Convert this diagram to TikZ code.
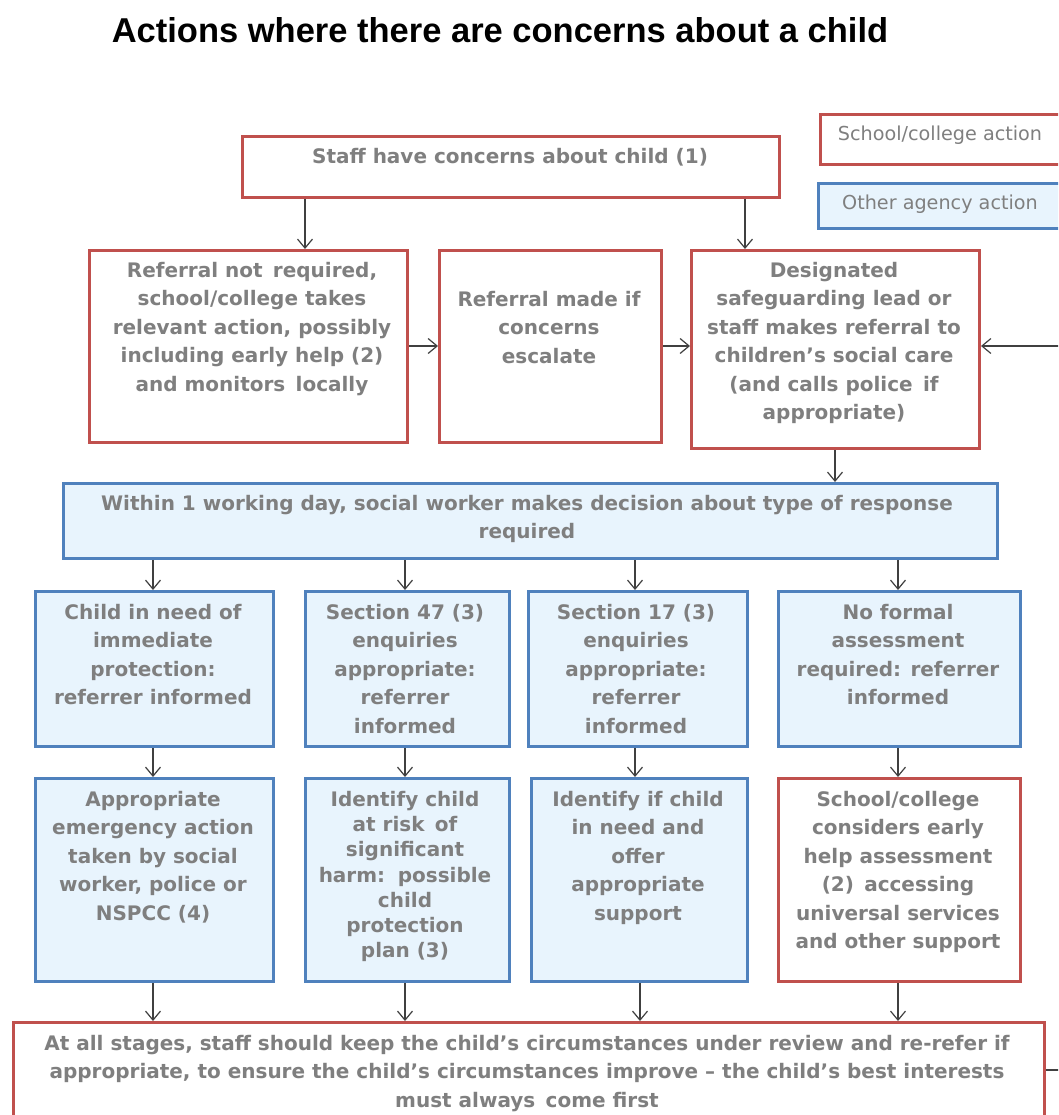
\documentclass[tikz,border=0pt]{standalone}
\usepackage{fontspec}
\setmainfont{Liberation Sans}
\newfontfamily\boxfont{DejaVu Sans}
\usetikzlibrary{arrows.meta}
\definecolor{redb}{HTML}{C0504D}
\definecolor{blueb}{HTML}{4F81BD}
\definecolor{bluef}{HTML}{E8F4FD}
\definecolor{tgray}{HTML}{7F7F7F}
\definecolor{agray}{HTML}{404040}
\tikzset{
  redbox/.style={draw=redb, line width=3pt, fill=white, inner sep=0, anchor=north west},
  bluebox/.style={draw=blueb, line width=3pt, fill=bluef, inner sep=0, anchor=north west},
  txt/.style={inner sep=0, align=center, anchor=north, text=tgray, font=\boxfont\bfseries\fontsize{20}{28.5}\selectfont},
  legtxt/.style={inner sep=0, anchor=center, text=tgray, font=\boxfont\fontsize{19.2}{23}\selectfont},
  arr/.style={draw=agray, line width=1.2pt, -{Straight Barb[length=9pt,width=15pt,line width=1.2pt]}},
  plain/.style={draw=agray, line width=1.2pt}
}
\begin{document}
\begin{tikzpicture}[x=1pt,y=-1pt]
\clip (0,0) rectangle (1058,1115);
\fill[white] (0,0) rectangle (1058,1115);
% title
\node[inner sep=0, font=\bfseries\fontsize{34.5}{40}\selectfont] (title) at (500,30) {Actions where there are concerns about a child};
% legend
\node[redbox, minimum width=260pt, minimum height=50pt] (legR) at (819,113) {};
\node[legtxt] (legRt) at (940,135) {School/college action};
\node[bluebox, minimum width=260pt, minimum height=45pt] (legB) at (817,182) {};
\node[legtxt] (legBt) at (940,204) {Other agency action};
% boxes
\node[redbox, minimum width=537pt, minimum height=61pt] (staff) at (241,135) {};
\node[txt] (stafft) at (510,148) {Staff have concerns about child (1)};
\node[redbox, minimum width=318pt, minimum height=192pt] (A) at (88,249) {};
\node[txt] (At) at (252,262) {Referral not\, required,\\school/college takes\\relevant action, possibly\\including early help (2)\\and monitors\, locally};
\node[redbox, minimum width=222pt, minimum height=192pt] (B) at (438,249) {};
\node[txt] (Bt) at (549,291) {Referral made if\\concerns\\escalate};
\node[redbox, minimum width=288pt, minimum height=198pt] (C) at (690,249) {};
\node[txt] (Ct) at (834,262) {Designated\\safeguarding lead or\\staff makes referral to\\children’s social care\\(and calls police\, if\\appropriate)};
\node[bluebox, minimum width=934pt, minimum height=75pt] (W) at (62,482) {};
\node[txt] (Wt) at (527,495) {Within 1 working day, social worker makes decision about type of response\\required};
% row 4
\node[bluebox, minimum width=238pt, minimum height=155pt] (D1) at (34,590) {};
\node[txt] (D1t) at (153,604) {Child in need of\\immediate\\protection:\\referrer informed};
\node[bluebox, minimum width=204pt, minimum height=155pt] (D2) at (304,590) {};
\node[txt] (D2t) at (405,604) {Section 47 (3)\\enquiries\\appropriate:\\referrer\\informed};
\node[bluebox, minimum width=219pt, minimum height=155pt] (D3) at (527,590) {};
\node[txt] (D3t) at (636,604) {Section 17 (3)\\enquiries\\appropriate:\\referrer\\informed};
\node[bluebox, minimum width=242pt, minimum height=155pt] (D4) at (777,590) {};
\node[txt] (D4t) at (898,604) {No formal\\assessment\\required: referrer\\informed};
% row 5
\node[bluebox, minimum width=238pt, minimum height=203pt] (E1) at (34,777) {};
\node[txt] (E1t) at (153,791) {Appropriate\\emergency action\\taken by social\\worker, police or\\NSPCC (4)};
\node[bluebox, minimum width=204pt, minimum height=203pt] (E2) at (304,777) {};
\node[txt, font=\boxfont\bfseries\fontsize{20}{25.2}\selectfont] (E2t) at (405,791) {Identify child\\at risk\, of\\significant\\harm:\, possible\\child\\protection\\plan (3)};
\node[bluebox, minimum width=216pt, minimum height=203pt] (E3) at (530,777) {};
\node[txt] (E3t) at (638,791) {Identify if child\\in need and\\offer\\appropriate\\support};
\node[redbox, minimum width=242pt, minimum height=203pt] (E4) at (777,777) {};
\node[txt] (E4t) at (898,791) {School/college\\considers early\\help assessment\\(2)\, accessing\\universal services\\and other support};
% bottom
\node[redbox, minimum width=1031pt, minimum height=120pt] (F) at (12,1021) {};
\node[txt] (Ft) at (527,1035) {At all stages, staff should keep the child’s circumstances under review and re-refer if\\appropriate, to ensure the child’s circumstances improve – the child’s best interests\\must always\, come first};
% connectors
\coordinate (loop) at (1080,0);
\draw[arr] (305,0 |- staff.south) -- (305,0 |- A.north);
\draw[arr] (745,0 |- staff.south) -- (745,0 |- C.north);
\draw[arr] (A.east |- 0,346) -- (B.west |- 0,346);
\draw[arr] (B.east |- 0,346) -- (C.west |- 0,346);
\draw[arr] (F.east |- 0,1070) -- (loop |- 0,1070) -- (loop |- 0,346) -- (C.east |- 0,346);
\draw[arr] (835,0 |- C.south) -- (835,0 |- W.north);
\foreach \x/\n in {153/D1,405/D2,635/D3,898/D4}{
  \draw[arr] (\x,0 |- W.south) -- (\x,0 |- \n.north);
}
\draw[arr] (153,0 |- D1.south) -- (153,0 |- E1.north);
\draw[arr] (405,0 |- D2.south) -- (405,0 |- E2.north);
\draw[arr] (635,0 |- D3.south) -- (635,0 |- E3.north);
\draw[arr] (898,0 |- D4.south) -- (898,0 |- E4.north);
\draw[arr] (153,0 |- E1.south) -- (153,0 |- F.north);
\draw[arr] (405,0 |- E2.south) -- (405,0 |- F.north);
\draw[arr] (640,0 |- E3.south) -- (640,0 |- F.north);
\draw[arr] (898,0 |- E4.south) -- (898,0 |- F.north);
\end{tikzpicture}
\end{document}
